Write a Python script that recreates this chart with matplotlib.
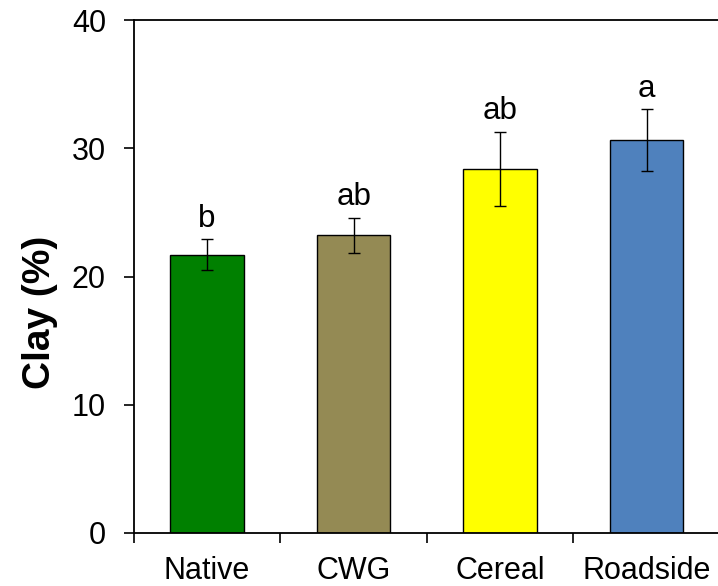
import matplotlib
matplotlib.use("Agg")
import matplotlib.pyplot as plt
import numpy as np

categories = ["Native", "CWG", "Cereal", "Roadside"]
clay_mean = [21.7, 23.2, 28.4, 30.65]
clay_err = [1.2, 1.4, 2.9, 2.4]
letters = ["b", "ab", "ab", "a"]
colors = ["#008000", "#948A54", "#FFFF00", "#4F81BD"]
yticks = [0, 10, 20, 30, 40]

plt.rcParams['font.family'] = ['Liberation Sans', 'DejaVu Sans']

fig = plt.figure(figsize=(7.18, 5.86), dpi=100)
ax = fig.add_axes([133.7 / 718, 1 - 533 / 586, (720 - 133.7) / 718, (533 - 20) / 586])

x = np.arange(len(categories))
ax.bar(x, clay_mean, width=0.5, color=colors, edgecolor="black", linewidth=1.0,
       yerr=clay_err, capsize=4.3,
       error_kw=dict(elinewidth=1.0, capthick=1.0, ecolor="black"), zorder=2)

for xi, m, e, t in zip(x, clay_mean, clay_err, letters):
    ax.annotate(t, xy=(xi, m + e), xytext=(0, 9), textcoords="offset points",
                ha="center", va="baseline", fontsize=22.5)

ax.set_xlim(-0.5, len(categories) - 0.5)
ax.set_ylim(0, 40)
ax.set_yticks(yticks)
ax.set_yticklabels([str(v) for v in yticks])
ax.set_xticks(x)
ax.set_xticklabels(categories)
ax.set_xticks(np.arange(len(categories) + 1) - 0.5, minor=True)

ax.tick_params(axis="x", which="major", length=0, pad=16.5, labelsize=22)
ax.tick_params(axis="x", which="minor", length=7, width=1.2, direction="out")
ax.tick_params(axis="y", which="major", length=7, width=1.2, direction="out",
               pad=13, labelsize=22)

for s in ["left", "bottom", "top"]:
    ax.spines[s].set_linewidth(1.3)
ax.spines["right"].set_visible(False)

ax.set_ylabel("Clay (%)", fontsize=28, fontweight="bold")
ax.yaxis.label.set_verticalalignment("center")
ax.yaxis.set_label_coords(-0.160, 0.431)

fig.savefig("out.png", dpi=100)
